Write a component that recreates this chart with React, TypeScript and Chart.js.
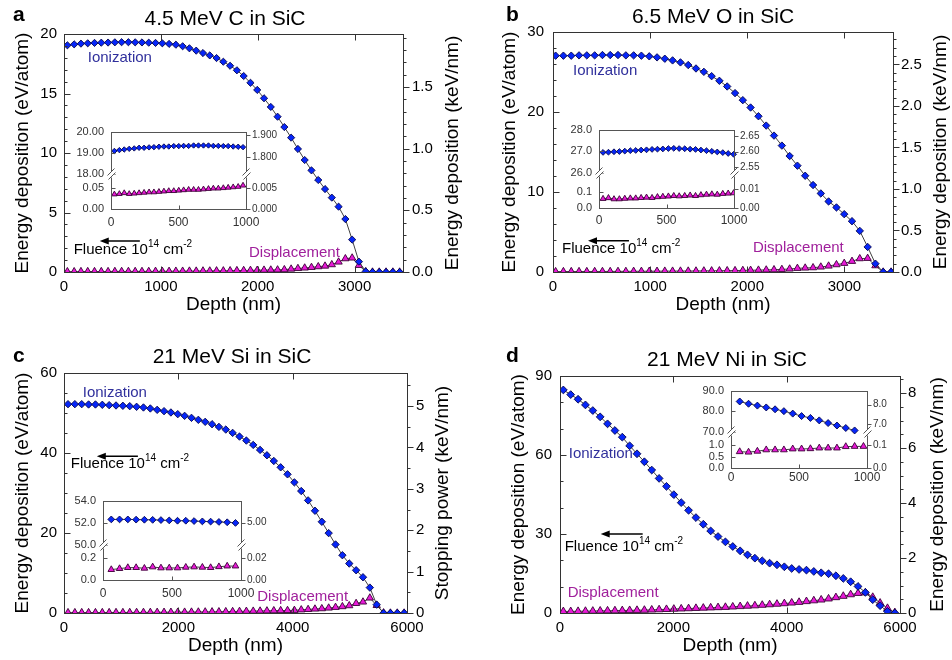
import React, { useEffect, useRef } from 'react';
import { Chart, registerables } from 'chart.js';

Chart.register(...registerables);
const FONT = "'Liberation Sans', Arial, Helvetica, sans-serif";
Chart.defaults.font.family = FONT;

// ---------------- data: panel a (4.5 MeV C in SiC) ----------------
const depthA = [35, 105, 175, 245, 315, 385, 455, 525, 595, 665, 735, 805, 875, 945, 1015, 1085, 1155, 1225, 1295, 1365, 1435, 1505, 1575, 1645, 1715, 1785, 1855, 1925, 1995, 2065, 2135, 2205, 2275, 2345, 2415, 2485, 2555, 2625, 2695, 2765, 2835, 2905, 2975, 3045, 3115, 3185, 3255, 3325, 3395, 3465];
const ionA = [19.05, 19.13, 19.19, 19.22, 19.25, 19.27, 19.28, 19.3, 19.31, 19.31, 19.3, 19.29, 19.27, 19.25, 19.22, 19.17, 19.1, 18.97, 18.8, 18.6, 18.4, 18.2, 17.98, 17.67, 17.33, 16.95, 16.47, 15.9, 15.3, 14.6, 13.87, 13.05, 12.18, 11.29, 10.34, 9.41, 8.54, 7.73, 6.97, 6.25, 5.49, 4.45, 2.72, 0.87, 0.05, 0, 0, 0, 0, 0];
const dispA = [0.03, 0.03, 0.04, 0.04, 0.04, 0.04, 0.04, 0.05, 0.05, 0.05, 0.05, 0.05, 0.05, 0.06, 0.06, 0.06, 0.07, 0.07, 0.08, 0.08, 0.09, 0.09, 0.1, 0.1, 0.11, 0.12, 0.13, 0.14, 0.15, 0.16, 0.17, 0.18, 0.2, 0.25, 0.3, 0.34, 0.39, 0.45, 0.5, 0.62, 0.84, 1.12, 1.18, 0.56, 0.03, 0, 0, 0, 0, 0];
const xTicksA = [0, 1000, 2000, 3000];
const yTicksA = [0, 5, 10, 15, 20];
const y2TicksA = [0, 0.5, 1, 1.5];

// ---------------- data: panel b (6.5 MeV O in SiC) ----------------
const depthB = [27, 107, 188, 268, 348, 429, 509, 589, 669, 750, 830, 910, 991, 1071, 1151, 1231, 1312, 1392, 1472, 1553, 1633, 1713, 1793, 1874, 1954, 2034, 2115, 2195, 2275, 2356, 2436, 2516, 2596, 2677, 2757, 2837, 2918, 2998, 3078, 3158, 3239, 3319, 3399, 3480];
const ionB = [27.04, 27.04, 27.04, 27.08, 27.08, 27.08, 27.12, 27.12, 27.12, 27.08, 27.08, 27.04, 26.96, 26.83, 26.66, 26.45, 26.2, 25.87, 25.44, 25.02, 24.48, 23.9, 23.19, 22.36, 21.48, 20.56, 19.47, 18.3, 17.05, 15.8, 14.5, 13.29, 12.03, 10.87, 9.82, 8.82, 8.07, 7.23, 6.35, 5.14, 3.13, 1.04, 0, 0];
const dispB = [0.05, 0.06, 0.06, 0.06, 0.06, 0.07, 0.07, 0.07, 0.08, 0.08, 0.09, 0.09, 0.1, 0.1, 0.11, 0.11, 0.12, 0.12, 0.13, 0.14, 0.15, 0.16, 0.17, 0.18, 0.2, 0.22, 0.24, 0.26, 0.29, 0.33, 0.38, 0.46, 0.5, 0.54, 0.63, 0.75, 0.92, 1.09, 1.34, 1.67, 1.71, 0.79, 0, 0];
const xTicksB = [0, 1000, 2000, 3000];
const yTicksB = [0, 10, 20, 30];
const y2TicksB = [0, 0.5, 1, 1.5, 2, 2.5];

// ---------------- data: panel c (21 MeV Si in SiC) ----------------
const depthC = [70, 190, 310, 430, 550, 670, 790, 910, 1030, 1150, 1270, 1390, 1510, 1630, 1750, 1870, 1990, 2110, 2230, 2350, 2470, 2590, 2710, 2830, 2950, 3070, 3190, 3310, 3430, 3550, 3670, 3790, 3910, 4030, 4150, 4270, 4390, 4510, 4630, 4750, 4870, 4990, 5110, 5230, 5350, 5470, 5590, 5710, 5830, 5950];
const ionC = [52.21, 52.21, 52.21, 52.13, 52.13, 52.05, 51.96, 51.88, 51.8, 51.71, 51.55, 51.38, 51.13, 50.79, 50.46, 50.13, 49.71, 49.29, 48.79, 48.29, 47.79, 47.2, 46.53, 45.86, 45.03, 44.11, 43.11, 42.02, 40.77, 39.43, 38.01, 36.42, 34.67, 32.66, 30.49, 28.15, 25.56, 22.81, 19.97, 17.13, 14.45, 12.36, 10.69, 8.94, 6.35, 2.09, 0, 0, 0, 0];
const dispC = [0.1, 0.1, 0.11, 0.11, 0.11, 0.12, 0.12, 0.13, 0.13, 0.14, 0.15, 0.16, 0.17, 0.18, 0.19, 0.2, 0.21, 0.22, 0.24, 0.26, 0.28, 0.3, 0.32, 0.35, 0.38, 0.41, 0.44, 0.47, 0.5, 0.54, 0.58, 0.62, 0.64, 0.67, 0.8, 0.9, 1.0, 1.09, 1.25, 1.42, 1.6, 1.84, 2.4, 2.76, 3.76, 1.9, 0.05, 0, 0, 0];
const xTicksC = [0, 2000, 4000, 6000];
const yTicksC = [0, 20, 40, 60];
const y2TicksC = [0, 1, 2, 3, 4, 5];

// ---------------- data: panel d (21 MeV Ni in SiC) ----------------
const depthD = [59, 189, 319, 449, 579, 709, 839, 969, 1099, 1229, 1359, 1489, 1619, 1749, 1879, 2009, 2139, 2269, 2399, 2529, 2659, 2789, 2919, 3049, 3179, 3309, 3439, 3569, 3699, 3829, 3959, 4089, 4219, 4349, 4479, 4609, 4739, 4869, 4999, 5129, 5259, 5389, 5519, 5649, 5779, 5909];
const ionD = [84.7, 82.93, 81.17, 79.02, 76.88, 74.48, 71.83, 69.3, 66.78, 63.49, 60.46, 57.43, 54.28, 51.12, 48.09, 44.94, 41.91, 39.0, 36.23, 33.7, 31.17, 29.03, 27.01, 25.25, 23.6, 22.09, 20.83, 19.82, 18.93, 18.3, 17.55, 16.91, 16.54, 16.28, 15.78, 15.27, 14.9, 14.14, 13.13, 11.87, 10.1, 7.83, 5.05, 2.78, 0.63, 0];
const dispD = [0.6, 0.6, 0.65, 0.7, 0.75, 0.8, 0.85, 0.9, 0.95, 1.0, 1.05, 1.1, 1.2, 1.3, 1.4, 1.5, 1.6, 1.7, 1.8, 1.9, 2.0, 2.1, 2.2, 2.35, 2.5, 2.65, 2.8, 3.0, 3.2, 3.4, 3.6, 3.85, 4.1, 4.4, 4.7, 5.0, 5.4, 5.9, 6.4, 7.0, 7.5, 7.7, 6.0, 3.8, 1.8, 0.2];
const xTicksD = [0, 2000, 4000, 6000];
const yTicksD = [0, 30, 60, 90];
const y2TicksD = [0, 2, 4, 6, 8];

// ---------------- inset data ----------------
const insetDepthA = [25, 62, 98, 135, 172, 208, 245, 282, 318, 355, 392, 428, 465, 502, 538, 575, 612, 648, 685, 722, 758, 795, 832, 868, 905, 942, 978];
const insetIonA = [19.08, 19.12, 19.15, 19.18, 19.2, 19.23, 19.23, 19.25, 19.26, 19.28, 19.29, 19.29, 19.31, 19.31, 19.32, 19.32, 19.34, 19.34, 19.34, 19.34, 19.32, 19.32, 19.31, 19.31, 19.29, 19.28, 19.26];
const insetDispA = [0.035, 0.036, 0.038, 0.036, 0.037, 0.038, 0.039, 0.04, 0.04, 0.041, 0.042, 0.043, 0.043, 0.044, 0.045, 0.046, 0.046, 0.046, 0.047, 0.048, 0.049, 0.049, 0.05, 0.051, 0.052, 0.053, 0.056];

const insetDepthB = [30, 70, 111, 151, 191, 232, 272, 312, 352, 393, 433, 473, 514, 554, 594, 635, 675, 715, 755, 796, 836, 876, 917, 957, 997];
const insetIonB = [26.94, 26.95, 26.97, 26.98, 27.0, 27.02, 27.03, 27.05, 27.06, 27.08, 27.09, 27.1, 27.12, 27.13, 27.12, 27.11, 27.09, 27.08, 27.05, 27.02, 26.99, 26.96, 26.93, 26.89, 26.85];
const insetDispB = [0.057, 0.062, 0.055, 0.055, 0.058, 0.06, 0.06, 0.063, 0.065, 0.063, 0.068, 0.07, 0.072, 0.075, 0.073, 0.075, 0.078, 0.075, 0.08, 0.083, 0.085, 0.083, 0.088, 0.09, 0.092];

const insetDepthC = [60, 120, 180, 240, 300, 360, 420, 480, 540, 600, 660, 720, 780, 840, 900, 960];
const insetIonC = [52.29, 52.29, 52.29, 52.27, 52.26, 52.25, 52.23, 52.2, 52.17, 52.17, 52.14, 52.11, 52.09, 52.06, 52.03, 51.97];
const insetDispC = [0.094, 0.103, 0.112, 0.112, 0.106, 0.118, 0.109, 0.109, 0.109, 0.115, 0.118, 0.115, 0.112, 0.12, 0.126, 0.126];

const insetDepthD = [64, 129, 194, 259, 324, 389, 454, 519, 584, 649, 714, 779, 844, 909, 974];
const insetIonD = [84.7, 83.6, 82.7, 81.8, 80.9, 80.0, 78.8, 77.6, 76.7, 75.5, 74.2, 73.0, 71.8, 70.6];
const insetDispD = [0.71, 0.69, 0.73, 0.79, 0.79, 0.79, 0.83, 0.83, 0.84, 0.87, 0.87, 0.87, 0.93, 0.94, 0.94];

const insetXTicks = [0, 500, 1000];

// ---------------- styles ----------------
const ionStyle = (r: number) => ({
  borderColor: '#404040', borderWidth: 1, tension: 0, fill: false,
  pointStyle: 'rectRot', pointRadius: r, pointBackgroundColor: '#0626f8',
  pointBorderColor: '#06064f', pointBorderWidth: 0.9,
});
const dispStyle = (r: number) => ({
  borderColor: '#404040', borderWidth: 1, tension: 0, fill: false,
  pointStyle: 'triangle', pointRadius: r, pointBackgroundColor: '#e81ad8',
  pointBorderColor: '#3a0036', pointBorderWidth: 0.9,
});
const ION_TXT = '#30309c';
const DISP_TXT = '#a0209c';

const pts = (xs: number[], ys: number[]) => ys.map((y, i) => ({ x: xs[i], y }));

// ---------------- panels ----------------
const panels: any[] = [
  {
    key: 'a', left: 0, top: 0, w: 476, h: 330, dr: 3.6, tr: 4.2,
    depth: depthA, ion: ionA, disp: dispA,
    xMax: 3500, xTicks: xTicksA, yMax: 20, yTicks: yTicksA, yMinor: 1, yDec: 0,
    y2Max: 1.929, y2Ticks: y2TicksA, y2Minor: 0.1, y2Dec: 1,
    area: { left: 64, right: 403, top: 34, bottom: 272 },
    title: '4.5 MeV C in SiC', titleX: 225, titleY: 25, letter: 'a', letterX: 13, letterY: 21,
    yTitle: 'Energy deposition (eV/atom)', yTitlePad: 11,
    y2Title: 'Energy deposition (keV/nm)', y2TitleX: 453, xTitlePad: 14,
    yPad: 7, y2Pad: 9, xPad: 6,
    ionLbl: [245, 18.0], dispLbl: [1910, 1.6], flu: { x1: 783, x2: 369, ay: 2.6, tx: 100, ty: 1.85 },
  },
  {
    key: 'b', left: 476, top: 0, w: 476, h: 330, dr: 3.7, tr: 4.2,
    depth: depthB, ion: ionB, disp: dispB,
    xMax: 3500, xTicks: xTicksB, yMax: 30, yTicks: yTicksB, yMinor: 2, yDec: 0,
    y2Max: 2.89, y2Ticks: y2TicksB, y2Minor: 0.1, y2Dec: 1,
    area: { left: 77, right: 417, top: 32, bottom: 272 },
    title: '6.5 MeV O in SiC', titleX: 237, titleY: 23, letter: 'b', letterX: 30, letterY: 21,
    yTitle: 'Energy deposition (eV/atom)', yTitlePad: 22,
    y2Title: 'Energy deposition (keV/nm)', y2TitleX: 465, xTitlePad: 14,
    yPad: 9, y2Pad: 8, xPad: 6,
    ionLbl: [206, 25.1], dispLbl: [2058, 3.0], flu: { x1: 782, x2: 360, ay: 3.9, tx: 93, ty: 2.9 },
  },
  {
    key: 'c', left: 0, top: 330, w: 476, h: 330, dr: 3.7, tr: 4.2,
    depth: depthC, ion: ionC, disp: dispC,
    xMax: 6000, xTicks: xTicksC, yMax: 60, yTicks: yTicksC, yMinor: 5, yDec: 0,
    y2Max: 5.8, y2Ticks: y2TicksC, y2Minor: 0.5, y2Dec: 0,
    area: { left: 64, right: 407, top: 43, bottom: 283 },
    title: '21 MeV Si in SiC', titleX: 232, titleY: 33, letter: 'c', letterX: 13, letterY: 32,
    yTitle: 'Energy deposition (eV/atom)', yTitlePad: 11,
    y2Title: 'Stopping power (keV/nm)', y2TitleX: 443, xTitlePad: 3,
    yPad: 7, y2Pad: 9, xPad: 6,
    ionLbl: [328, 55], dispLbl: [3380, 4.0], flu: { x1: 1293, x2: 574, ay: 39.2, tx: 118, ty: 37.2 },
  },
  {
    key: 'd', left: 476, top: 330, w: 476, h: 330, dr: 3.9, tr: 4.4,
    depth: depthD, ion: ionD, disp: dispD,
    xMax: 6000, xTicks: xTicksD, yMax: 90, yTicks: yTicksD, yMinor: 10, yDec: 0,
    y2Max: 8.62, y2Ticks: y2TicksD, y2Minor: 0.5, y2Dec: 0,
    area: { left: 84, right: 424, top: 46, bottom: 283 },
    title: '21 MeV Ni in SiC', titleX: 251, titleY: 36, letter: 'd', letterX: 30, letterY: 32,
    yTitle: 'Energy deposition (eV/atom)', yTitlePad: 31,
    y2Title: 'Energy deposition (keV/nm)', y2TitleX: 462, xTitlePad: 3,
    yPad: 8, y2Pad: 8, xPad: 6,
    ionLbl: [154, 60.4], dispLbl: [136, 7.6], flu: { x1: 1459, x2: 718, ay: 30.0, tx: 83, ty: 25.1 },
  },
];

const insets: any[] = [
  {
    key: 'a', left: 66, top: 118, w: 224, h: 118, dr: 2.7, tr: 3.2,
    area: { left: 45, right: 180, top: 10, bottom: 91 }, xPad: 6,
    depth: insetDepthA, ion: insetIonA, disp: insetDispA,
    wTop: 44, wBot: 37,
    yt: [18, 20, [18, 19, 20], 2], yb: [0, 0.0841, [0, 0.05], 2],
    rt: [1.726, 1.917, [1.8, 1.9], 3], rb: [0, 0.00841, [0, 0.005], 3],
  },
  {
    key: 'b', left: 554, top: 116, w: 226, h: 116, dr: 2.9, tr: 3.4,
    area: { left: 45, right: 180, top: 10, bottom: 92 }, xPad: 5,
    depth: insetDepthB, ion: insetIonB, disp: insetDispB,
    wTop: 45, wBot: 37,
    yt: [26, 28, [26, 27, 28], 1], yb: [0, 0.218, [0, 0.1], 1],
    rt: [2.531, 2.672, [2.55, 2.6, 2.65], 2], rb: [0, 0.0185, [0, 0.01], 2],
  },
  {
    key: 'c', left: 58, top: 487, w: 232, h: 118, dr: 3.4, tr: 3.8,
    area: { left: 45, right: 183, top: 10, bottom: 93 }, xPad: 6,
    depth: insetDepthC, ion: insetIonC, disp: insetDispC,
    wTop: 46, wBot: 37,
    yt: [50, 54, [50, 52, 54], 1], yb: [0, 0.32, [0, 0.2], 1],
    rt: [4.81, 5.19, [5], 2], rb: [0, 0.032, [0, 0.02], 2],
  },
  {
    key: 'd', left: 686, top: 377, w: 229, h: 118, dr: 3.5, tr: 3.9,
    area: { left: 45, right: 181, top: 10, bottom: 91 }, xPad: 2,
    depth: insetDepthD, ion: insetIonD, disp: insetDispD,
    wTop: 43, wBot: 38,
    yt: [70, 90, [70, 80, 90], 1], yb: [0, 1.58, [0, 0.5, 1], 1],
    rt: [6.62, 8.71, [7, 8], 1], rb: [0, 0.158, [0, 0.1], 1],
  },
];

// ---------------- drawing helpers ----------------
function tickMarks(ctx: any, chart: any, id: string, side: string, dir: string, minorStep: number, majLen: number, minLen: number) {
  const s = chart.scales[id];
  const a = chart.chartArea;
  const majors = s.ticks.map((t: any) => t.value);
  const minors: number[] = [];
  if (minorStep) {
    const k0 = Math.ceil(s.min / minorStep - 1e-6);
    for (let k = k0; k * minorStep <= s.max + 1e-9; k++) {
      const v = k * minorStep;
      if (!majors.some((m: number) => Math.abs(m - v) < minorStep * 1e-3)) minors.push(v);
    }
  }
  const one = (v: number, len: number) => {
    const p = Math.round(s.getPixelForValue(v)) + 0.5;
    ctx.beginPath();
    if (side === 'left' || side === 'right') {
      const x = side === 'left' ? Math.round(a.left) + 0.5 : Math.round(a.right) + 0.5;
      const sign = (side === 'left') === (dir === 'in') ? 1 : -1;
      ctx.moveTo(x, p); ctx.lineTo(x + sign * len, p);
    } else {
      const y = side === 'bottom' ? Math.round(a.bottom) + 0.5 : Math.round(a.top) + 0.5;
      const sign = (side === 'top') === (dir === 'in') ? 1 : -1;
      ctx.moveTo(p, y); ctx.lineTo(p, y + sign * len);
    }
    ctx.stroke();
  };
  majors.forEach((v: number) => one(v, majLen));
  minors.forEach((v: number) => one(v, minLen));
}

function drawFluence(ctx: any, x: number, y: number) {
  const parts: any[] = [['Fluence 10', 15, 0], ['14', 10, -6], [' cm', 15, 0], ['-2', 10, -6]];
  ctx.fillStyle = '#000';
  ctx.textAlign = 'left';
  ctx.textBaseline = 'middle';
  let cx = x;
  for (const [t, sz, dy] of parts) {
    ctx.font = `${sz}px ${FONT}`;
    ctx.fillText(t, cx, y + dy);
    cx += ctx.measureText(t).width;
  }
}

function drawArrow(ctx: any, x1: number, x2: number, y: number) {
  ctx.strokeStyle = '#000';
  ctx.fillStyle = '#000';
  ctx.lineWidth = 1.5;
  ctx.beginPath();
  ctx.moveTo(x1, y); ctx.lineTo(x2 + 6, y);
  ctx.stroke();
  ctx.beginPath();
  ctx.moveTo(x2, y); ctx.lineTo(x2 + 9, y - 3.5); ctx.lineTo(x2 + 9, y + 3.5); ctx.closePath();
  ctx.fill();
}

function mainDecor(p: any) {
  return {
    id: 'decor' + p.key,
    afterDraw(chart: any) {
      const ctx = chart.ctx;
      const a = chart.chartArea;
      const sx = chart.scales.x, sy = chart.scales.y;
      ctx.save();
      ctx.strokeStyle = '#333';
      ctx.lineWidth = 1;
      ctx.strokeRect(Math.round(a.left) + 0.5, Math.round(a.top) + 0.5, Math.round(a.right - a.left), Math.round(a.bottom - a.top));
      tickMarks(ctx, chart, 'x', 'bottom', 'in', 0, 6, 3);
      tickMarks(ctx, chart, 'x', 'top', 'in', 0, 6, 3);
      tickMarks(ctx, chart, 'y', 'left', 'in', p.yMinor, 6, 3);
      tickMarks(ctx, chart, 'y2', 'right', 'out', p.y2Minor, 6, 3);

      ctx.textAlign = 'left';
      ctx.textBaseline = 'middle';
      ctx.font = `15px ${FONT}`;
      ctx.fillStyle = ION_TXT;
      ctx.fillText('Ionization', sx.getPixelForValue(p.ionLbl[0]), sy.getPixelForValue(p.ionLbl[1]));
      ctx.fillStyle = DISP_TXT;
      ctx.fillText('Displacement', sx.getPixelForValue(p.dispLbl[0]), sy.getPixelForValue(p.dispLbl[1]));
      drawArrow(ctx, sx.getPixelForValue(p.flu.x1), sx.getPixelForValue(p.flu.x2), sy.getPixelForValue(p.flu.ay));
      drawFluence(ctx, sx.getPixelForValue(p.flu.tx), sy.getPixelForValue(p.flu.ty));

      ctx.fillStyle = '#000';
      ctx.textBaseline = 'alphabetic';
      ctx.textAlign = 'center';
      ctx.font = `21px ${FONT}`;
      ctx.fillText(p.title, p.titleX, p.titleY);
      ctx.textAlign = 'left';
      ctx.font = `bold 21px ${FONT}`;
      ctx.fillText(p.letter, p.letterX, p.letterY);

      ctx.translate(p.y2TitleX, (a.top + a.bottom) / 2);
      ctx.rotate(-Math.PI / 2);
      ctx.textAlign = 'center';
      ctx.textBaseline = 'middle';
      ctx.font = `19px ${FONT}`;
      ctx.fillText(p.y2Title, 0, 0);
      ctx.restore();
    },
  };
}

const fmt = (d: number) => (v: any) => Number(v).toFixed(d);

function mainConfig(p: any): any {
  const noGrid = { display: false, drawTicks: false };
  const tickFont = { size: 15 };
  return {
    type: 'line',
    data: {
      datasets: [
        { label: 'Ionization', data: pts(p.depth, p.ion), yAxisID: 'y', ...ionStyle(p.dr) },
        { label: 'Displacement', data: pts(p.depth, p.disp), yAxisID: 'y', ...dispStyle(p.tr) },
      ],
    },
    options: {
      responsive: false,
      animation: false,
      events: [],
      layout: { padding: { top: p.area.top, left: 0, right: 0, bottom: 0 } },
      plugins: { legend: { display: false }, tooltip: { enabled: false }, title: { display: false } },
      scales: {
        x: {
          type: 'linear', position: 'bottom', min: 0, max: p.xMax, bounds: 'data',
          grid: noGrid, border: { display: false },
          ticks: { padding: p.xPad, font: tickFont, color: '#000', autoSkip: false, maxRotation: 0, callback: fmt(0) },
          afterBuildTicks: (s: any) => { s.ticks = p.xTicks.map((v: number) => ({ value: v })); },
          title: { display: true, text: 'Depth (nm)', font: { size: 19 }, color: '#000', padding: p.xTitlePad },
          afterFit: (s: any) => { s.height = p.h - p.area.bottom; },
        },
        y: {
          type: 'linear', position: 'left', min: 0, max: p.yMax, bounds: 'data',
          grid: noGrid, border: { display: false },
          ticks: { padding: p.yPad, font: tickFont, color: '#000', autoSkip: false, callback: fmt(p.yDec) },
          afterBuildTicks: (s: any) => { s.ticks = p.yTicks.map((v: number) => ({ value: v })); },
          title: { display: true, text: p.yTitle, font: { size: 19 }, color: '#000', padding: p.yTitlePad },
          afterFit: (s: any) => { s.width = p.area.left; },
        },
        y2: {
          type: 'linear', position: 'right', min: 0, max: p.y2Max, bounds: 'data', display: true,
          grid: noGrid, border: { display: false },
          ticks: { padding: p.y2Pad, font: tickFont, color: '#000', autoSkip: false, callback: fmt(p.y2Dec) },
          afterBuildTicks: (s: any) => { s.ticks = p.y2Ticks.map((v: number) => ({ value: v })); },
          afterFit: (s: any) => { s.width = p.w - p.area.right; },
        },
      },
    },
    plugins: [mainDecor(p)],
  };
}

function insetDecor(q: any) {
  return {
    id: 'idecor' + q.key,
    beforeDatasetsDraw(chart: any) {
      const ctx = chart.ctx;
      const a = chart.chartArea;
      ctx.save();
      ctx.fillStyle = '#fff';
      ctx.fillRect(a.left, a.top, a.right - a.left, a.bottom - a.top);
      ctx.restore();
    },
    afterDraw(chart: any) {
      const ctx = chart.ctx;
      const a = chart.chartArea;
      ctx.save();
      ctx.strokeStyle = '#555';
      ctx.lineWidth = 1;
      ctx.strokeRect(Math.round(a.left) + 0.5, Math.round(a.top) + 0.5, Math.round(a.right - a.left), Math.round(a.bottom - a.top));
      tickMarks(ctx, chart, 'x', 'bottom', 'in', 0, 4, 2);
      tickMarks(ctx, chart, 'yt', 'left', 'in', 0, 4, 2);
      tickMarks(ctx, chart, 'yb', 'left', 'in', 0, 4, 2);
      tickMarks(ctx, chart, 'rt', 'right', 'out', 0, 4, 2);
      tickMarks(ctx, chart, 'rb', 'right', 'out', 0, 4, 2);
      const yb = Math.round(chart.scales.yt.bottom) + 0.5;
      for (const x of [Math.round(a.left) + 0.5, Math.round(a.right) + 0.5]) {
        ctx.fillStyle = '#fff';
        ctx.fillRect(x - 3, yb - 3, 6, 6);
        ctx.strokeStyle = '#555';
        ctx.beginPath();
        ctx.moveTo(x - 4, yb + 1); ctx.lineTo(x + 3, yb - 6);
        ctx.moveTo(x - 3, yb + 5); ctx.lineTo(x + 4, yb - 2);
        ctx.stroke();
      }
      ctx.restore();
    },
  };
}

function insetConfig(q: any): any {
  const noGrid = { display: false, drawTicks: false };
  const leftW = q.area.left;
  const rightW = q.w - q.area.right;
  const yAxis = (pos: string, stack: string, sw: number, weight: number, spec: any[], width: number, pad: number, size: number) => ({
    type: 'linear', position: pos, stack, stackWeight: sw, weight, min: spec[0], max: spec[1], bounds: 'data', display: true,
    grid: noGrid, border: { display: false },
    ticks: { padding: pad, font: { size }, color: '#333', autoSkip: false, callback: fmt(spec[3]) },
    afterBuildTicks: (s: any) => { s.ticks = spec[2].map((v: number) => ({ value: v })); },
    afterFit: (s: any) => { s.width = width; },
  });
  return {
    type: 'line',
    data: {
      datasets: [
        { label: 'Ionization', data: pts(q.depth, q.ion), xAxisID: 'x', yAxisID: 'yt', clip: 4, ...ionStyle(q.dr) },
        { label: 'Displacement', data: pts(q.depth, q.disp), xAxisID: 'x', yAxisID: 'yb', ...dispStyle(q.tr) },
      ],
    },
    options: {
      responsive: false,
      animation: false,
      events: [],
      layout: { padding: { top: q.area.top, left: 0, right: 0, bottom: 0 } },
      plugins: { legend: { display: false }, tooltip: { enabled: false } },
      scales: {
        x: {
          type: 'linear', position: 'bottom', min: 0, max: 1000, bounds: 'data',
          grid: noGrid, border: { display: false },
          ticks: { padding: q.xPad, font: { size: 12 }, color: '#333', autoSkip: false, maxRotation: 0, callback: fmt(0) },
          afterBuildTicks: (s: any) => { s.ticks = insetXTicks.map((v: number) => ({ value: v })); },
          afterFit: (s: any) => { s.height = q.h - q.area.bottom; },
        },
        yb: yAxis('left', 'L', q.wBot, 0, q.yb, leftW, 7, 11),
        yt: yAxis('left', 'L', q.wTop, 1, q.yt, leftW, 7, 11),
        rt: yAxis('right', 'R', q.wTop, 0, q.rt, rightW, 6, 10),
        rb: yAxis('right', 'R', q.wBot, 1, q.rb, rightW, 6, 10),
      },
    },
    plugins: [insetDecor(q)],
  };
}

function ChartBox({ x, y, w, h, make }: any) {
  const ref = useRef<HTMLCanvasElement | null>(null);
  useEffect(() => {
    const chart = new Chart(ref.current as any, make());
    return () => chart.destroy();
  }, []);
  return (
    <canvas
      ref={ref}
      width={w}
      height={h}
      style={{ position: 'absolute', left: x, top: y, width: w, height: h }}
    />
  );
}

export default function App() {
  return (
    <div style={{ position: 'absolute', left: 0, top: 0, width: 952, height: 660, background: '#fff', overflow: 'hidden' }}>
      {panels.map((p) => (
        <ChartBox key={'m' + p.key} x={p.left} y={p.top} w={p.w} h={p.h} make={() => mainConfig(p)} />
      ))}
      {insets.map((q) => (
        <ChartBox key={'i' + q.key} x={q.left} y={q.top} w={q.w} h={q.h} make={() => insetConfig(q)} />
      ))}
    </div>
  );
}
